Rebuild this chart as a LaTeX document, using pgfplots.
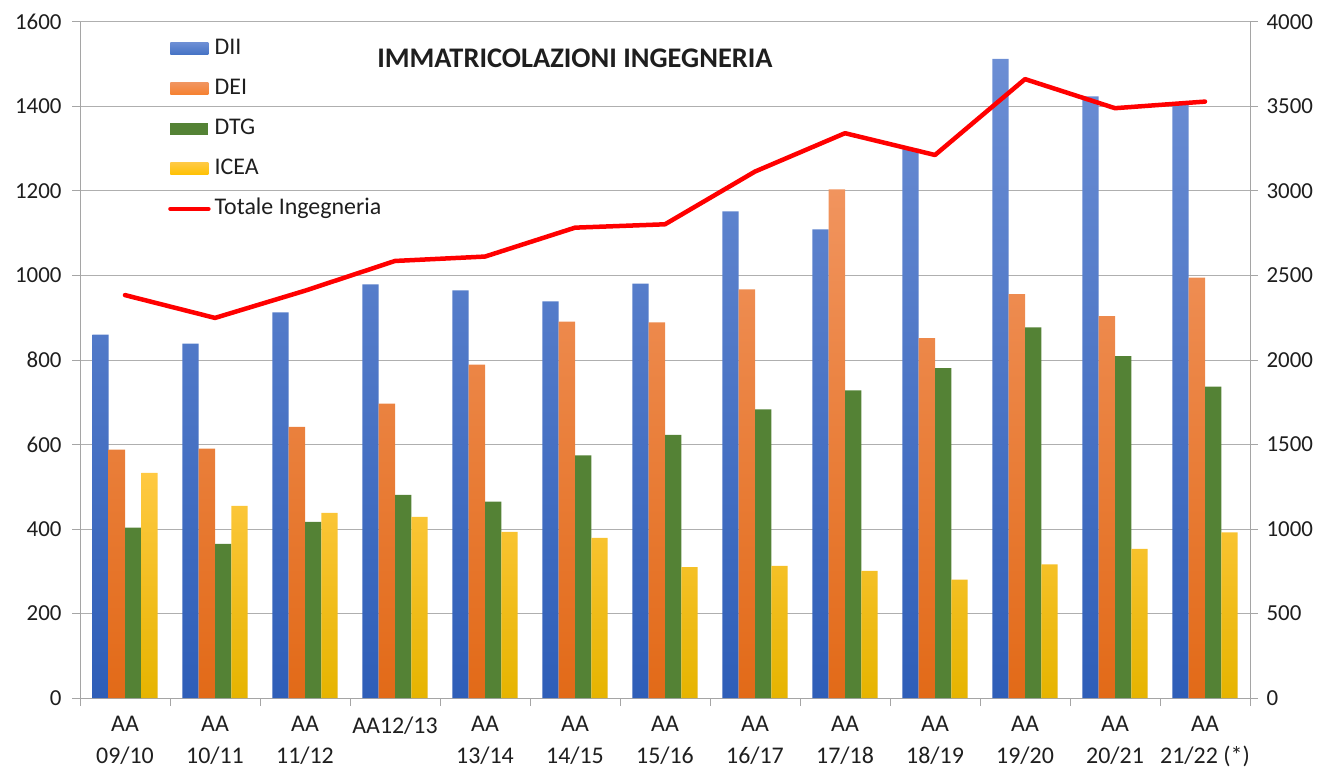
\documentclass[border=0pt]{standalone}
\usepackage{fontspec}
\setmainfont{Carlito}
\usepackage{pgfplots}
\pgfplotsset{compat=1.18}
\usetikzlibrary{calc}
\definecolor{diiT}{RGB}{108,142,212}
\definecolor{diiM}{RGB}{68,114,196}
\definecolor{diiB}{RGB}{46,94,184}
\definecolor{deiT}{RGB}{241,148,94}
\definecolor{deiM}{RGB}{246,128,46}
\definecolor{deiB}{RGB}{226,106,24}
\definecolor{dtg}{RGB}{84,130,53}
\definecolor{iceT}{RGB}{255,201,66}
\definecolor{iceM}{RGB}{255,193,0}
\definecolor{iceB}{RGB}{230,180,0}
\definecolor{gridgray}{RGB}{175,175,175}
\definecolor{axisgray}{RGB}{165,165,165}
\definecolor{labc}{RGB}{30,30,30}
\begin{document}
\begin{tikzpicture}
\begin{axis}[
  name=ax,
  scale only axis, width=1170bp, height=676bp,
  xmin=-0.5, xmax=12.5, ymin=0, ymax=1600,
  ybar=0pt, bar width=16.3bp,
  axis x line*=bottom, axis y line*=left,
  axis line style={axisgray, line width=1pt},
  ytick={0,200,...,1600}, ymajorgrids,
  grid style={gridgray, line width=1pt},
  tick align=outside, major tick length=8bp,
  tick style={axisgray, line width=1pt},
  xtick={0,...,12},
  xticklabels={{AA\\09/10},{AA\\10/11},{AA\\11/12},{AA12/13},{AA\\13/14},{AA\\14/15},{AA\\15/16},{AA\\16/17},{AA\\17/18},{AA\\18/19},{AA\\19/20},{AA\\20/21},{AA\\21/22 (*)}},
  x tick label style={align=center, font=\fontsize{24}{32}\selectfont, text=labc, yshift=-7bp},
  y tick label style={font=\fontsize{23}{26}\selectfont, text=labc, xshift=-7bp},
  /pgf/number format/assume math mode=true,
  scaled y ticks=false,
  yticklabel style={/pgf/number format/1000 sep={}},
  xtick style={draw=none},
  extra x ticks={-0.5,0.5,...,12.5}, extra x tick labels={},
  extra x tick style={grid=none, xtick style={draw=axisgray, line width=1pt}},
  legend style={at={(0.0752,0.976)}, anchor=north west, draw=none, fill=none,
    font=\fontsize{24}{28}\selectfont, text=labc, row sep=19bp, inner sep=0pt,
    nodes={inner sep=0pt, text height=16bp, text depth=5bp},
    /tikz/every odd column/.append style={column sep=4bp}},
  legend cell align=left,
]
\addplot[draw=none, top color=diiT, middle color=diiM, bottom color=diiB,
  legend image code/.code={\shade[top color=diiT, bottom color=diiM] (0bp,-6bp) rectangle (38bp,6bp);}]
  coordinates {(0,860) (1,839) (2,913) (3,979) (4,965) (5,939) (6,981) (7,1152) (8,1109) (9,1300) (10,1513) (11,1424) (12,1405)};
\addlegendentry{DII}
\addplot[draw=none, top color=deiT, middle color=deiM, bottom color=deiB,
  legend image code/.code={\shade[top color=deiT, bottom color=deiM] (0bp,-6bp) rectangle (38bp,6bp);}]
  coordinates {(0,588) (1,590) (2,642) (3,697) (4,789) (5,891) (6,889) (7,967) (8,1204) (9,852) (10,956) (11,904) (12,995)};
\addlegendentry{DEI}
\addplot[draw=none, fill=dtg,
  legend image code/.code={\fill[dtg] (0bp,-6bp) rectangle (38bp,6bp);}]
  coordinates {(0,403) (1,365) (2,417) (3,481) (4,465) (5,574) (6,623) (7,683) (8,728) (9,781) (10,877) (11,809) (12,737)};
\addlegendentry{DTG}
\addplot[draw=none, top color=iceT, middle color=iceM, bottom color=iceB,
  legend image code/.code={\shade[top color=iceT, bottom color=iceM] (0bp,-6bp) rectangle (38bp,6bp);}]
  coordinates {(0,533) (1,455) (2,438) (3,429) (4,393) (5,379) (6,310) (7,313) (8,301) (9,280) (10,316) (11,353) (12,392)};
\addlegendentry{ICEA}
\addlegendimage{legend image code/.code={\draw[red, line width=4.5bp, line cap=round] (0bp,0bp) -- (38bp,0bp);}}
\addlegendentry{Totale Ingegneria}
\node[font=\fontsize{28.5}{32}\selectfont\bfseries, text=labc] at (rel axis cs:0.423,0.947) {IMMATRICOLAZIONI INGEGNERIA};
\coordinate (BL) at (rel axis cs:0,0);
\coordinate (TR) at (rel axis cs:1,1);
\end{axis}
\begin{axis}[
  scale only axis, width=1170bp, height=676bp,
  xmin=-0.5, xmax=12.5, ymin=0, ymax=4000,
  axis y line*=right, axis x line=none,
  axis line style={axisgray, line width=1pt},
  ytick={0,500,...,4000},
  tick align=outside, major tick length=8bp,
  tick style={axisgray, line width=1pt},
  y tick label style={font=\fontsize{23}{26}\selectfont, text=labc, xshift=5bp},
  /pgf/number format/assume math mode=true,
  scaled y ticks=false,
  yticklabel style={/pgf/number format/1000 sep={}},
]
\addplot[draw=red, line width=4.5bp, line join=round, line cap=round, mark=none]
  coordinates {(0,2384) (1,2249) (2,2410) (3,2586) (4,2612) (5,2783) (6,2803) (7,3115) (8,3342) (9,3213) (10,3662) (11,3490) (12,3529)};
\end{axis}
\pgfresetboundingbox
\path[use as bounding box] ($(BL)+(-80bp,-70bp)$) rectangle ($(TR)+(74bp,22bp)$);
\end{tikzpicture}
\end{document}
